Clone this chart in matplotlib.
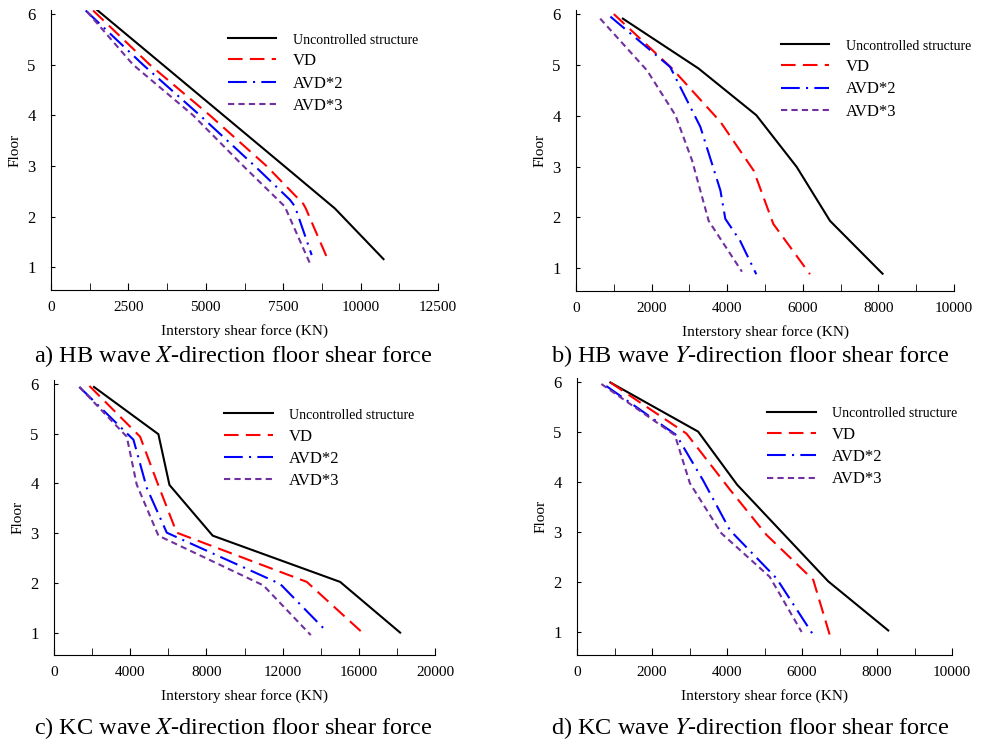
import numpy as np
import matplotlib.pyplot as plt

plt.rcParams['font.family'] = ['Liberation Serif', 'DejaVu Serif']
plt.rcParams['mathtext.fontset'] = 'stix'

# 数据：楼层与层间剪力 (KN)
# a) HB 波 X 向
hbx_unc_f = [6.08, 5.0, 4.0, 3.0, 2.16, 1.16]
hbx_unc_v = [1490, 3610, 5570, 7530, 9170, 10740]
hbx_vd_f = [6.07, 5.0, 4.0, 3.0, 2.25, 2.16, 1.14]
hbx_vd_v = [1360, 3190, 5130, 6960, 8150, 8230, 8950]
hbx_avd2_f = [6.07, 5.0, 4.0, 3.0, 2.33, 2.2, 1.24]
hbx_avd2_v = [1120, 2970, 4810, 6580, 7720, 7880, 8420]
hbx_avd3_f = [6.05, 5.0, 4.0, 3.0, 2.2, 1.08]
hbx_avd3_v = [1160, 2650, 4590, 6210, 7550, 8360]

# b) HB 波 Y 向
hby_unc_f = [5.91, 4.93, 4.01, 2.99, 1.93, 0.89]
hby_unc_v = [1240, 3240, 4770, 5840, 6720, 8110]
hby_vd_f = [6.0, 4.93, 3.88, 2.92, 1.87, 0.88]
hby_vd_v = [1000, 2540, 3820, 4700, 5220, 6190]
hby_avd2_f = [5.95, 4.96, 3.78, 2.53, 1.97, 1.54, 0.88]
hby_avd2_v = [910, 2490, 3290, 3820, 3950, 4340, 4770]
hby_avd3_f = [5.91, 4.89, 4.01, 3.12, 1.93, 0.93]
hby_avd3_v = [640, 1880, 2630, 3070, 3510, 4390]

# c) KC 波 X 向
kcx_unc_f = [5.94, 4.99, 3.97, 2.95, 2.02, 1.0]
kcx_unc_v = [2100, 5480, 6060, 8330, 15020, 18170]
kcx_vd_f = [5.96, 4.94, 4.05, 3.01, 2.02, 0.95]
kcx_vd_v = [1860, 4520, 5390, 6440, 13270, 16330]
kcx_avd2_f = [5.94, 4.88, 3.91, 3.01, 1.98, 1.02]
kcx_avd2_v = [1330, 4170, 4870, 5920, 11870, 14320]
kcx_avd3_f = [5.94, 4.94, 3.98, 2.95, 1.95, 0.95]
kcx_avd3_v = [1330, 3820, 4340, 5480, 10990, 13480]

# d) KC 波 Y 向
kcy_unc_f = [5.99, 5.01, 3.95, 2.02, 1.04]
kcy_unc_v = [890, 3230, 4270, 6700, 8300]
kcy_vd_f = [5.99, 4.97, 3.85, 2.95, 2.05, 0.95]
kcy_vd_v = [890, 2920, 4080, 5050, 6300, 6740]
kcy_avd2_f = [5.92, 4.94, 4.04, 3.04, 2.08, 0.95]
kcy_avd2_v = [780, 2650, 3360, 4080, 5320, 6300]
kcy_avd3_f = [5.96, 4.94, 3.98, 2.98, 2.11, 1.01]
kcy_avd3_v = [650, 2610, 3010, 3850, 5140, 5990]

labels = ['Uncontrolled structure', 'VD', 'AVD*2', 'AVD*3']
floor_ticks = [1, 2, 3, 4, 5, 6]

W, H = 984, 741


def fx(px):
    return px / W


def fy(py):
    return 1 - py / H


def draw_panel(rect, series, xmax, xstep, leg_xy, caption, cap_xy):
    ax = fig.add_axes(rect)
    styles = [
        dict(color='black', lw=1.5, ls='-'),
        dict(color='#FF0000', lw=1.5, ls=(0, (7, 3.5))),
        dict(color='#0000FF', lw=1.5, ls=(0, (9, 3, 1, 3))),
        dict(color='#7030A0', lw=1.5, ls=(0, (3, 2))),
    ]
    for (v, f), st, lab in zip(series, styles, labels):
        ax.plot(v, f, label=lab, **st)
    ax.set_xlim(0, xmax)
    ax.set_ylim(0.55, 6.08)
    ax.set_xticks(np.arange(0, xmax + 1, xstep))
    ax.set_xticks(np.arange(0, xmax + 1, xstep / 2), minor=True)
    ax.set_yticks(floor_ticks)
    ax.tick_params(direction='in', labelsize=11, length=5)
    ax.tick_params(axis='x', pad=8)
    ax.tick_params(which='minor', direction='in', length=5)
    ax.tick_params(axis='y', length=3, pad=11, labelsize=12)
    for s in ['top', 'right']:
        ax.spines[s].set_visible(False)
    ax.set_xlabel('Interstory shear force (KN)', fontsize=11, labelpad=7)
    ax.set_ylabel('Floor', fontsize=11, labelpad=4)
    leg = ax.legend(loc='upper left', bbox_to_anchor=leg_xy, frameon=False,
                    fontsize=12, handlelength=2.9, handletextpad=1.0,
                    labelspacing=0.38, borderpad=0)
    leg.get_texts()[0].set_fontsize(10)
    fig.text(cap_xy[0], cap_xy[1], caption, fontsize=17.5, ha='center', va='center')
    return ax


fig = plt.figure(figsize=(9.84, 7.41), dpi=100)

draw_panel([fx(51), fy(290), fx(438 - 51), 280 / H],
           [(hbx_unc_v, hbx_unc_f), (hbx_vd_v, hbx_vd_f),
            (hbx_avd2_v, hbx_avd2_f), (hbx_avd3_v, hbx_avd3_f)],
           12500, 2500, (0.435, 0.95),
           r'a) HB wave $\mathit{X}$-direction floor shear force', (fx(233), fy(356)))

draw_panel([fx(576), fy(291), fx(954 - 576), 281 / H],
           [(hby_unc_v, hby_unc_f), (hby_vd_v, hby_vd_f),
            (hby_avd2_v, hby_avd2_f), (hby_avd3_v, hby_avd3_f)],
           10000, 2000, (0.52, 0.93),
           r'b) HB wave $\mathit{Y}$-direction floor shear force', (fx(750), fy(356)))

draw_panel([fx(54), fy(655), fx(435 - 54), 275 / H],
           [(kcx_unc_v, kcx_unc_f), (kcx_vd_v, kcx_vd_f),
            (kcx_avd2_v, kcx_avd2_f), (kcx_avd3_v, kcx_avd3_f)],
           20000, 4000, (0.425, 0.93),
           r'c) KC wave $\mathit{X}$-direction floor shear force', (fx(233), fy(728)))

draw_panel([fx(577), fy(655), fx(952 - 577), 277 / H],
           [(kcy_unc_v, kcy_unc_f), (kcy_vd_v, kcy_vd_f),
            (kcy_avd2_v, kcy_avd2_f), (kcy_avd3_v, kcy_avd3_f)],
           10000, 2000, (0.485, 0.93),
           r'd) KC wave $\mathit{Y}$-direction floor shear force', (fx(750), fy(728)))

fig.savefig('out.png', dpi=100)
